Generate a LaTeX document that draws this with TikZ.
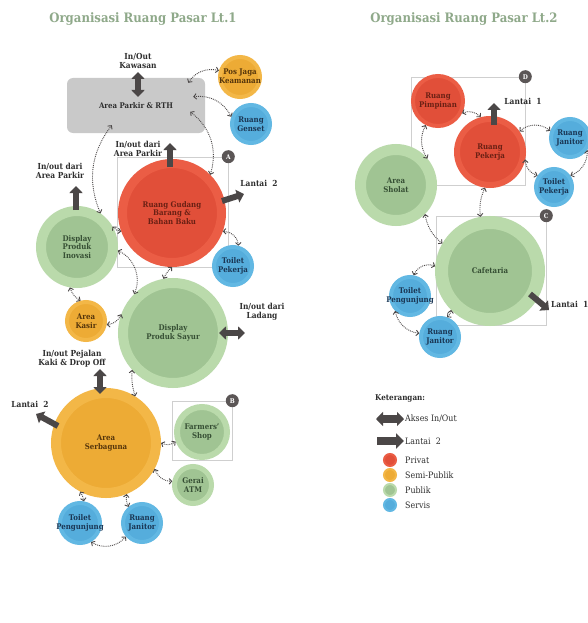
\documentclass[tikz,border=0pt]{standalone}
\usepackage{fontspec}
\setmainfont{DejaVu Serif}[FakeStretch=0.9]
\usetikzlibrary{arrows.meta,calc}
\definecolor{redout}{HTML}{EB5D45}
\definecolor{redin}{HTML}{E14F39}
\definecolor{orout}{HTML}{F3B747}
\definecolor{orin}{HTML}{EDAB35}
\definecolor{grout}{HTML}{BADAAB}
\definecolor{grin}{HTML}{A0C493}
\definecolor{blout}{HTML}{62B8E3}
\definecolor{blin}{HTML}{55ADDC}
\definecolor{parkgray}{HTML}{C9C9C9}
\definecolor{arrowgray}{HTML}{4B4747}
\definecolor{titlegreen}{HTML}{8FA98A}
\definecolor{boxline}{HTML}{CFCFCF}
\definecolor{redtxt}{HTML}{6A2014}
\definecolor{ortxt}{HTML}{55350B}
\definecolor{grtxt}{HTML}{364F34}
\definecolor{bltxt}{HTML}{1A3654}
\definecolor{labeltxt}{HTML}{2E2E2E}
\definecolor{markgray}{HTML}{5B5656}
\newcommand{\fitc}[1]{\makebox[0pt]{\begin{tabular}{@{}c@{}}#1\end{tabular}}}
\tikzset{
  room/.style 2 args={circle, inner sep=0pt, align=center, minimum size={2*#1-#2}, line width=#2,
    font=\fontsize{7.8}{8.6}\selectfont\bfseries},
  privat/.style={draw=redout, fill=redin, text=redtxt},
  semi/.style={draw=orout, fill=orin, text=ortxt},
  publik/.style={draw=grout, fill=grin, text=grtxt},
  servis/.style={draw=blout, fill=blin, text=bltxt},
  tipv/.tip={Straight Barb[length=2.6pt,width=5.5pt,line width=0.9pt]},
  conn/.style={densely dotted, line width=0.9pt, draw=arrowgray, tipv-tipv},
  bigarrow/.style={line width=6pt, draw=arrowgray, -{Triangle[length=7pt,width=13pt]}},
  bigdarrow/.style={line width=6pt, draw=arrowgray, {Triangle[length=7pt,width=13pt]}-{Triangle[length=7pt,width=13pt]}},
  lgarrow/.style={line width=8pt, draw=arrowgray, -{Triangle[length=8pt,width=15pt]}},
  lgdarrow/.style={line width=8pt, draw=arrowgray, {Triangle[length=7pt,width=14pt]}-{Triangle[length=7pt,width=14pt]}},
  lbl/.style={font=\fontsize{8.3}{8.8}\selectfont\bfseries, text=labeltxt, align=center, inner sep=0pt},
  lgd/.style={font=\fontsize{8.8}{9}\selectfont, text=labeltxt, inner sep=0pt, anchor=west},
  titlestyle/.style={font=\fontsize{13}{13}\selectfont\bfseries, text=titlegreen, inner sep=0pt},
  zonebox/.style={draw=boxline, line width=0.6pt, inner sep=0pt},
  marker/.style={circle, fill=markgray, text=white, inner sep=0pt, minimum size=13pt,
    font=\fontsize{6.5}{6.5}\selectfont\bfseries},
}
\begin{document}
\begin{tikzpicture}[x=1pt, y=-1pt]
\useasboundingbox (0,0) rectangle (588,623);
\fill[white] (0,0) rectangle (588,623);

% titles
\node[titlestyle] (title1) at (143,19) {Organisasi Ruang Pasar Lt.1};
\node[titlestyle] (title2) at (464,19) {Organisasi Ruang Pasar Lt.2};

% zone boxes
\node[zonebox, minimum width=111pt, minimum height=110pt] (boxA) at (172.5,212) {};
\node[zonebox, minimum width=60pt, minimum height=59pt] (boxB) at (202,430.5) {};
\node[zonebox, minimum width=114pt, minimum height=108pt] (boxD) at (468,131) {};
\node[zonebox, minimum width=110pt, minimum height=109pt] (boxC) at (491,270.5) {};

% ---------- Lt.1 ----------
\node[rectangle, rounded corners=6pt, fill=parkgray, minimum width=138pt, minimum height=55pt,
  font=\fontsize{7.8}{8.6}\selectfont\bfseries, text=labeltxt] (parkir) at (136,105.5) {Area Parkir \& RTH};

\node[lbl] (kawasan) at (138,61) {In/Out\\Kawasan};
\coordinate (kaw1) at (138,72);
\coordinate (kaw2) at (138,97);
\draw[bigdarrow] (kaw1) -- (kaw2);

\node[room={22}{4}, semi] (posjaga) at (240,77) {\fitc{Pos Jaga\\Keamanan}};
\node[room={21}{4}, servis] (genset) at (251,124) {Ruang\\Genset};
\node[room={54}{9}, privat] (gudang) at (172,213) {Ruang Gudang\\Barang \&\\Bahan Baku};
\node[room={21}{4}, servis] (toiletpk) at (233,266) {Toilet\\Pekerja};
\node[room={41}{10}, publik] (inovasi) at (77,247) {Display\\Produk\\Inovasi};
\node[room={21}{4}, semi] (kasir) at (86,321) {Area\\Kasir};
\node[room={55}{10}, publik] (sayur) at (173,333) {Display\\Produk Sayur};
\node[room={55}{10}, semi] (serbaguna) at (106,443) {Area\\Serbaguna};
\node[room={28}{6}, publik] (farmers) at (202,432) {Farmers'\\Shop};
\node[room={21}{5}, publik] (atm) at (193,485) {Gerai\\ATM};
\node[room={22}{4}, servis] (toiletpg) at (80,523) {\fitc{Toilet\\Pengunjung}};
\node[room={21}{4}, servis] (janitor) at (142,523) {Ruang\\Janitor};

\node[lbl] (ipark1) at (138,149) {In/out dari\\Area Parkir};
\coordinate (ga1) at (170,167);
\coordinate (ga2) at (170,143);
\draw[bigarrow] (ga1) -- (ga2);

\node[lbl] (ipark2) at (60,171) {In/out dari\\Area Parkir};
\coordinate (ia1) at (76,210);
\coordinate (ia2) at (76,186);
\draw[bigarrow] (ia1) -- (ia2);

\node[lbl] (lantaiA) at (259,183) {Lantai\ \ 2};
\coordinate (la1) at (222,201);
\coordinate (la2) at (244,194);
\draw[bigarrow] (la1) -- (la2);

\node[lbl] (ladang) at (262,312) {In/out dari\\Ladang};
\coordinate (ld1) at (219,333);
\coordinate (ld2) at (245,333);
\draw[bigdarrow] (ld1) -- (ld2);

\node[lbl] (pejalan) at (72,359) {In/out Pejalan\\Kaki \& Drop Off};
\coordinate (pj1) at (100,369);
\coordinate (pj2) at (100,394);
\draw[bigdarrow] (pj1) -- (pj2);

\node[lbl] (lantaiB) at (30,404) {Lantai\ \ 2};
\coordinate (lb1) at (58,426);
\coordinate (lb2) at (36,414);
\draw[bigarrow] (lb1) -- (lb2);

% connector end points on the parking area
\coordinate (p1) at ($(parkir.north east)+(-17,5)$);
\coordinate (p2) at ($(parkir.north east)+(-12,19)$);
\coordinate (p3) at ($(parkir.north east)+(-15,34)$);
\coordinate (p4) at ($(parkir.south west)+(45,-8)$);

\draw[conn] (p1) to[bend left=35] (posjaga.163);
\draw[conn] (p2) to[bend left=35] (genset.160);
\draw[conn] (gudang.45) to[bend right=35] (p3);
\draw[conn] (inovasi.55) to[bend left=30] (p4);
\draw[conn] (inovasi.30) to[bend right=20] (gudang.200);
\draw[conn] (inovasi.-5) to[bend left=45] (sayur.135);
\draw[conn] (inovasi.-100) to[bend right=20] (kasir.105);
\draw[conn] (kasir.-10) to[bend right=30] (sayur.160);
\draw[conn] (gudang.-90) to[bend right=10] (sayur.100);
\draw[conn] (gudang.-20) to[bend left=45] (toiletpk.75);
\draw[conn] (sayur.222) to[bend right=10] (serbaguna.58);
\draw[conn] (serbaguna.0) to[bend right=30] (farmers.200);
\draw[conn] (serbaguna.-28) to[bend right=35] (atm.170);
\draw[conn] (serbaguna.242) to[bend left=10] (toiletpg.80);
\draw[conn] (serbaguna.292) to[bend right=15] (janitor.130);
\draw[conn] (toiletpg.-60) to[bend right=40] (janitor.-140);

% ---------- Lt.2 ----------
\node[room={27}{4}, privat] (pimpinan) at (438,101) {Ruang\\Pimpinan};
\node[room={36}{6}, privat] (pekerja) at (490,152) {Ruang\\Pekerja};
\node[room={21}{4}, servis] (janitorB) at (570,138) {Ruang\\Janitor};
\node[room={20}{4}, servis] (toiletpkB) at (554,187) {Toilet\\Pekerja};
\node[room={41}{11}, publik] (sholat) at (396,185) {Area\\Sholat};
\node[room={55}{13}, publik] (cafe) at (490,271) {Cafetaria};
\node[room={21}{4}, servis] (toiletpgB) at (410,296) {\fitc{Toilet\\Pengunjung}};
\node[room={21}{4}, servis] (janitorC) at (440,337) {Ruang\\Janitor};

\node[lbl] (lantaiC) at (523,101) {Lantai\ \ 1};
\coordinate (lc1) at (494,125);
\coordinate (lc2) at (494,103);
\draw[bigarrow] (lc1) -- (lc2);

\node[lbl, anchor=west] (lantaiD) at (551,304) {Lantai\ \ 1};
\coordinate (le1) at (530,294);
\coordinate (le2) at (549,310);
\draw[bigarrow] (le1) -- (le2);

\draw[conn] (pimpinan.-27) to[bend left=35] (pekerja.105);
\draw[conn] (pimpinan.243) to[bend right=30] (sholat.40);
\draw[conn] (pekerja.35) to[bend left=40] (janitorB.160);
\draw[conn] (pekerja.-12) to[bend right=35] (toiletpkB.145);
\draw[conn] (janitorB.-35) to[bend left=35] (toiletpkB.35);
\draw[conn] (pekerja.-98) to[bend right=15] (cafe.100);
\draw[conn] (sholat.-45) to[bend right=20] (cafe.150);
\draw[conn] (cafe.175) to[bend right=45] (toiletpgB.80);
\draw[conn] (cafe.225) to[bend left=20] (janitorC.70);
\draw[conn] (toiletpgB.225) to[bend right=35] (janitorC.170);

% markers
\node[marker] (mA) at (boxA.north east) {A};
\node[marker] (mB) at (boxB.north east) {B};
\node[marker] (mD) at (boxD.north east) {D};
\node[marker] (mC) at (boxC.north east) {C};

% ---------- legend ----------
\node[lgd, font=\fontsize{8}{8}\selectfont\bfseries] (ket) at (375,398) {Keterangan:};
\coordinate (k1) at (376,419);
\coordinate (k2) at (404,419);
\draw[lgdarrow] (k1) -- (k2);
\node[lgd] (lgakses) at (405,419) {Akses In/Out};
\coordinate (k3) at (377,441);
\coordinate (k4) at (404,441);
\draw[lgarrow] (k3) -- (k4);
\node[lgd] (lglantai) at (405,441) {Lantai\ \ 2};
\node[room={7}{2}, privat] (lgred) at (390,460) {};
\node[lgd] (lgprivat) at (405,460) {Privat};
\node[room={7}{2}, semi] (lgor) at (390,475) {};
\node[lgd] (lgsemi) at (405,475) {Semi-Publik};
\node[room={7}{2}, publik] (lggr) at (390,490) {};
\node[lgd] (lgpublik) at (405,490) {Publik};
\node[room={7}{2}, servis] (lgbl) at (390,505) {};
\node[lgd] (lgservis) at (405,505) {Servis};
\end{tikzpicture}
\end{document}
